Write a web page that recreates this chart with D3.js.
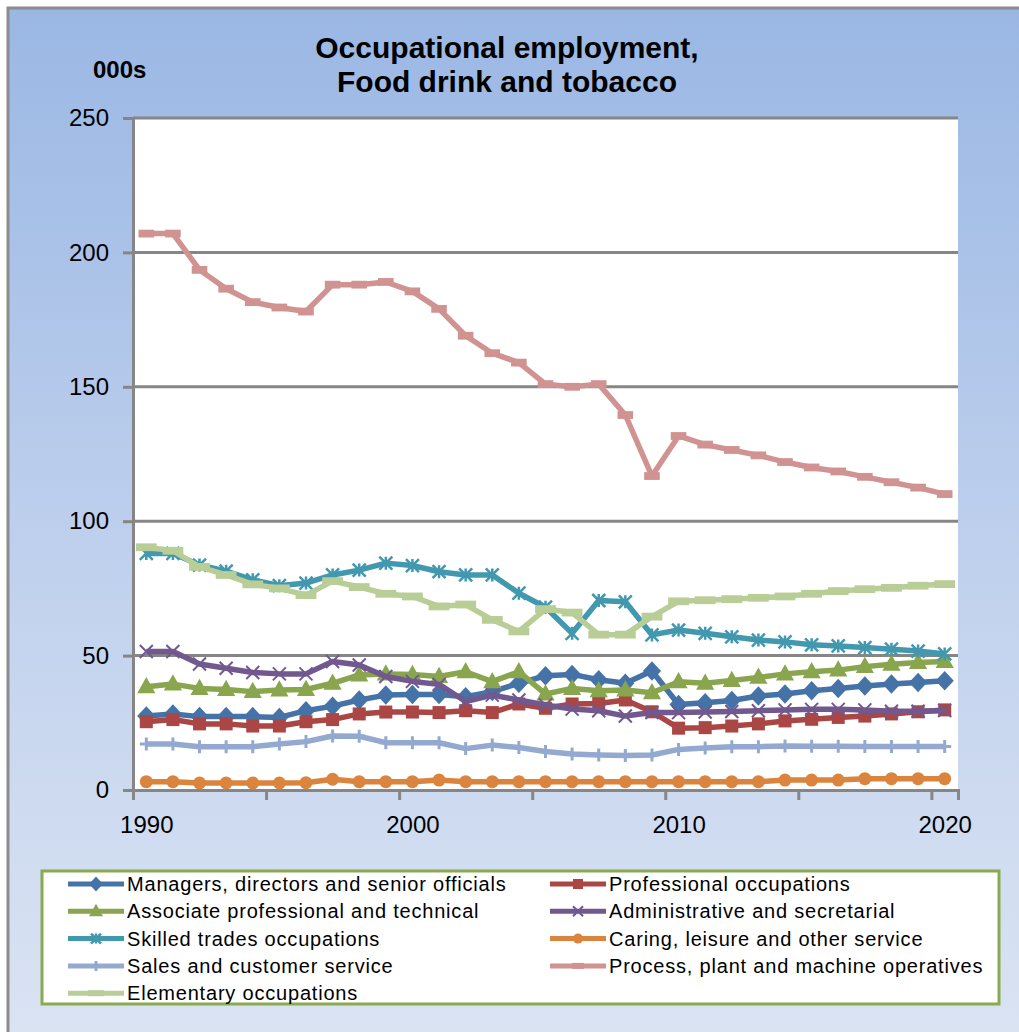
<!DOCTYPE html>
<html><head><meta charset="utf-8">
<script src="https://cdn.jsdelivr.net/npm/d3@7"></script>
<style>html,body{margin:0;padding:0;background:#fff;}svg{display:block;}</style>
</head><body>
<svg id="chart" width="1019" height="1032"></svg>
<script>
const years = d3.range(1990, 2021);
const xLabels = [1990, 2000, 2010, 2020];
const yTicks = [0, 50, 100, 150, 200, 250];

const managers = [27.5,28.3,27.3,27.3,27.3,27,29.5,31.2,33.5,35.3,35.5,35.5,34.7,36.6,39.7,42.5,43,41,39.7,44.3,31.8,32.5,33.3,35,35.7,36.9,37.8,38.7,39.4,40,40.6];
const professional = [25.4,26.2,24.6,24.6,23.8,23.8,25.4,26.2,28.3,29,29,28.8,29.5,28.8,32,30.4,32,32.2,33.5,29.1,23,23.2,23.8,24.6,25.7,26.3,27,27.5,28.3,29.1,29.8];
const associate = [38.4,39.4,37.8,37.4,36.6,37.2,37.4,39.7,42.8,43.2,43,42.2,44,40.3,44,35.7,37.8,36.9,37.2,36.2,40.3,39.7,40.7,41.9,43.2,44,44.6,45.9,46.8,47.4,47.8];
const administrative = [51.5,51.5,46.9,45.3,43.7,43.2,43.2,47.8,46.5,42.2,40.4,39.3,32.9,35.3,33.5,31.6,30.1,29.5,27.5,28.8,28.8,29,29.2,29.5,29.8,30,30,29.8,29.3,29.3,29.6];
const skilled = [88,88,83.7,81.4,78.2,76,77,80,81.8,84.4,83.5,81.2,80,80,73.2,68,58.3,70.5,70,57.7,59.5,58.3,57,55.8,55.1,54,53.6,53,52.4,51.7,50.6];
const caring = [3.1,3.1,2.6,2.6,2.6,2.6,2.7,4,3.1,3.1,3.1,3.7,3.1,3.1,3.1,3.1,3.1,3.1,3.1,3.1,3.1,3.1,3.1,3.1,3.7,3.7,3.7,4.2,4.2,4.2,4.2];
const sales = [17.1,17.1,16.1,16.1,16.1,17.1,18,20.1,20,17.6,17.6,17.6,15.4,16.7,15.8,14.3,13.4,13,12.8,13,15.1,15.6,16.1,16.1,16.4,16.3,16.3,16.2,16.2,16.2,16.2];
const process = [207,207,193.5,186.5,181.5,179.5,178,188,188,189,185.5,179,169,162.5,159,151,150,151,139.5,116.8,131.7,128.5,126.5,124.5,122,120,118.5,116.5,114.5,112.5,110.1];
const elementary = [90.3,89,83,80,76.5,75,72.5,77.7,75.5,73,72,68.3,69,63.3,59,67.3,66,57.8,57.8,64.5,70.2,70.6,71,71.5,72,73,74,74.7,75.2,76,76.6];

const seriesNames = ["Managers, directors and senior officials","Professional occupations","Associate professional and technical","Administrative and secretarial","Skilled trades occupations","Caring, leisure and other service","Sales and customer service","Process, plant and machine operatives","Elementary occupations"];
const seriesColors = ["#4572A7","#AA4643","#89A54E","#71588F","#4198AF","#DB843D","#93A9CF","#D19392","#B9CD96"];
const seriesMarkers = ["diamond","square","triangle","x","star","circle","plus","dash","longdash"];
const seriesValues = [managers, professional, associate, administrative, skilled, caring, sales, process, elementary];

const svg = d3.select("#chart");
const defs = svg.append("defs");
const grad = defs.append("linearGradient").attr("id","bg").attr("x1",0).attr("y1",0).attr("x2",0).attr("y2",1);
grad.append("stop").attr("offset","0%").attr("stop-color","#9AB7E4");
grad.append("stop").attr("offset","55%").attr("stop-color","#C3D3EE");
grad.append("stop").attr("offset","100%").attr("stop-color","#DEE6F3");

svg.append("rect").attr("width",1019).attr("height",1032).attr("fill","#ffffff");
svg.append("rect").attr("x",8).attr("y",8).attr("width",1100).attr("height",1100)
  .attr("fill","url(#bg)").attr("stroke","#8C8C8C").attr("stroke-width",3);

const L = 133, R = 958, T = 118, B = 790;
const y = d3.scaleLinear().domain([0,250]).range([B,T]);
const x = d3.scalePoint().domain(years).range([L,R]).padding(0.5);
const xb = d3.scaleLinear().domain([1989.5, 2020.5]).range([L,R]);

svg.append("rect").attr("x",L).attr("y",T).attr("width",R-L).attr("height",B-T).attr("fill","#ffffff");

svg.append("g").selectAll("line").data(yTicks.filter(d=>d>0)).join("line")
  .attr("x1",L).attr("x2",R).attr("y1",d=>y(d)).attr("y2",d=>y(d))
  .attr("stroke","#868686").attr("stroke-width",3);

const yAxis = svg.append("g").attr("transform",`translate(${L},0)`)
  .call(d3.axisLeft(y).tickValues(yTicks).tickSize(10).tickPadding(14));
yAxis.select(".domain").attr("stroke","#868686").attr("stroke-width",3);
yAxis.selectAll(".tick line").attr("stroke","#868686").attr("stroke-width",3);
yAxis.selectAll("text").attr("font-family","Liberation Sans, Arial, sans-serif").attr("font-size",24).attr("fill","#000");

const xAxis = svg.append("g").attr("transform",`translate(0,${B})`)
  .call(d3.axisBottom(xb).tickValues(d3.range(1989.5, 2021, 5)).tickSize(10).tickFormat(""));
xAxis.select(".domain").attr("stroke","#868686").attr("stroke-width",3);
xAxis.selectAll(".tick line").attr("stroke","#868686").attr("stroke-width",3);
const xLab = svg.append("g").attr("transform",`translate(0,${B})`)
  .call(d3.axisBottom(x).tickValues(xLabels).tickSize(0).tickPadding(26));
xLab.select(".domain").remove();
xLab.selectAll("text").attr("font-family","Liberation Sans, Arial, sans-serif").attr("font-size",24).attr("fill","#000");

function drawMarker(g, type, color, size) {
  const s = size;
  if (type === "diamond") {
    g.append("path").attr("d",`M0,${-s*0.75}L${s*0.7},0L0,${s*0.75}L${-s*0.7},0Z`).attr("fill",color);
  } else if (type === "square") {
    g.append("rect").attr("x",-s/2).attr("y",-s/2).attr("width",s).attr("height",s).attr("fill",color);
  } else if (type === "triangle") {
    g.append("path").attr("d",`M0,${-s*0.75}L${s*0.7},${s*0.5}L${-s*0.7},${s*0.5}Z`).attr("fill",color);
  } else if (type === "x") {
    g.append("path").attr("d",`M${-s/2},${-s/2}L${s/2},${s/2}M${s/2},${-s/2}L${-s/2},${s/2}`).attr("stroke",color).attr("stroke-width",2);
  } else if (type === "star") {
    g.append("path").attr("d",`M${-s/2},${-s/2}L${s/2},${s/2}M${s/2},${-s/2}L${-s/2},${s/2}M0,${-s/2}L0,${s/2}`).attr("stroke",color).attr("stroke-width",2.5);
  } else if (type === "circle") {
    g.append("circle").attr("r",s/2).attr("fill",color);
  } else if (type === "plus") {
    g.append("path").attr("d",`M${-s/2},0L${s/2},0M0,${-s/2}L0,${s/2}`).attr("stroke",color).attr("stroke-width",3);
  } else if (type === "dash") {
    g.append("rect").attr("x",-s*0.6).attr("y",-s*0.3).attr("width",s*1.2).attr("height",s*0.6).attr("fill",color);
  } else if (type === "longdash") {
    g.append("rect").attr("x",-s*0.8).attr("y",-s*0.3).attr("width",s*1.6).attr("height",s*0.6).attr("fill",color);
  }
}

const line = d3.line().x((d,i)=>x(years[i])).y(d=>y(d));
const plot = svg.append("g");
seriesValues.forEach((vals, si) => {
  const g = plot.append("g");
  g.append("path").attr("d", line(vals)).attr("fill","none")
    .attr("stroke", seriesColors[si]).attr("stroke-width",5.5).attr("stroke-linejoin","round");
  vals.forEach((v,i) => {
    const m = g.append("g").attr("transform",`translate(${x(years[i])},${y(v)})`);
    drawMarker(m, seriesMarkers[si], seriesColors[si], 13);
  });
});

const title = svg.append("g").attr("font-family","Liberation Sans, Arial, sans-serif").attr("font-weight","bold").attr("fill","#000");
title.append("text").attr("x",507).attr("y",58).attr("text-anchor","middle").attr("font-size",30).text("Occupational employment,");
title.append("text").attr("x",507).attr("y",92).attr("text-anchor","middle").attr("font-size",30).text("Food drink and tobacco");
svg.append("text").attr("x",93).attr("y",78).attr("font-family","Liberation Sans, Arial, sans-serif").attr("font-weight","bold").attr("font-size",24).text("000s");

const lg = svg.append("g");
lg.append("rect").attr("x",42).attr("y",871).attr("width",957).attr("height",133).attr("fill","#ffffff").attr("stroke","#8AAA50").attr("stroke-width",3);
seriesNames.forEach((name, i) => {
  const col = i % 2, row = Math.floor(i/2);
  const lx = col === 0 ? 68 : 550;
  const ly = 884 + row*27.3;
  const e = lg.append("g");
  e.append("line").attr("x1",lx).attr("x2",lx+56).attr("y1",ly).attr("y2",ly).attr("stroke",seriesColors[i]).attr("stroke-width",5);
  const m = e.append("g").attr("transform",`translate(${lx+28},${ly})`);
  drawMarker(m, seriesMarkers[i], seriesColors[i], 10);
  e.append("text").attr("x",lx+59).attr("y",ly+7).attr("font-family","Liberation Sans, Arial, sans-serif")
    .attr("font-size",20).attr("letter-spacing",0.8).attr("fill","#000").text(name);
});
</script>
</body></html>
